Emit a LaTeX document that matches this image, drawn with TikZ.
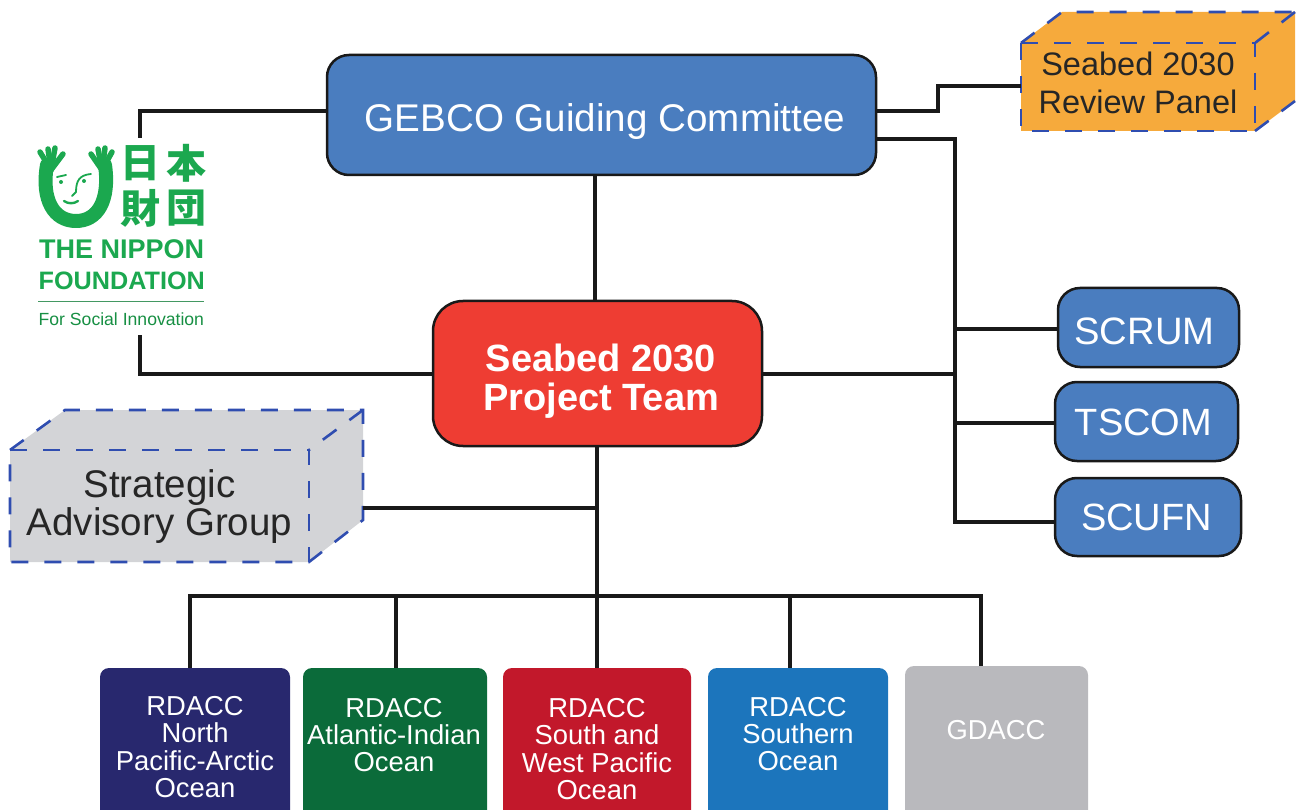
\documentclass[tikz,border=0pt]{standalone}
\usepackage{fontspec}
\setmainfont{Liberation Sans}
\newfontfamily\cjkfont{Noto Sans CJK JP}
\definecolor{boxblue}{HTML}{4A7DBF}
\definecolor{teamred}{HTML}{EE3D33}
\definecolor{dashblue}{HTML}{2F4DB0}
\definecolor{panelorange}{HTML}{F6AA3C}
\definecolor{sagrey}{HTML}{D3D4D7}
\definecolor{logogreen}{HTML}{1BA84F}
\definecolor{rnavy}{HTML}{28286E}
\definecolor{rgreen}{HTML}{0B6B3A}
\definecolor{rred}{HTML}{C2182B}
\definecolor{rblue}{HTML}{1C75BC}
\definecolor{rgrey}{HTML}{B9B9BD}
\newcommand{\fs}[1]{\fontsize{#1}{#1}\selectfont}
\tikzset{
  x=1pt,y=-1pt,
  conn/.style={line width=4.5pt,draw=black!90},
  roundbox/.style={draw=black!90,line width=2.5pt,rounded corners=22pt,fill=boxblue,text=white,align=center,inner sep=0pt},
  regionbox/.style={text=white,align=center,inner sep=0pt,font=\fs{27.4}},
  cubeedge/.style={draw=dashblue,line width=2.6pt,dash pattern=on 17pt off 16pt},
  cubetext/.style={text=black!85,align=center,inner sep=0pt},
  logotext/.style={text=logogreen,inner sep=0pt,anchor=base west},
  logostroke/.style={draw=logogreen,line cap=round,line join=round},
}
\begin{document}
\begin{tikzpicture}
\useasboundingbox (0,0) rectangle (1301,810);
\clip (0,0) rectangle (1301,810);
% boxes
\node[roundbox,minimum width=549pt,minimum height=120pt] (gebco) at (601.5,115) {};
\node[text=white,font=\fs{38.6},inner sep=0pt] (gebcot) at (605,122) {GEBCO Guiding Committee};
\node[roundbox,fill=teamred,minimum width=329pt,minimum height=145pt,rounded corners=30pt] (team) at (597.5,373.5) {};
\node[text=white,font=\bfseries\fs{38},align=center,inner sep=0pt] (teamt) at (601,381) {Seabed 2030\\[1pt]Project Team};
\node[roundbox,minimum width=181pt,minimum height=79pt,rounded corners=22pt] (scrum) at (1148.5,327.5) {};
\node[text=white,font=\fs{38.2},inner sep=0pt] (scrumt) at (1144.5,331) {SCRUM};
\node[roundbox,minimum width=183pt,minimum height=79pt,rounded corners=22pt] (tscom) at (1146.5,421.5) {};
\node[text=white,font=\fs{38},inner sep=0pt] (tscomt) at (1143.5,422) {TSCOM};
\node[roundbox,minimum width=186pt,minimum height=78pt,rounded corners=22pt] (scufn) at (1148,517) {};
\node[text=white,font=\fs{38},inner sep=0pt] (scufnt) at (1146.5,517) {SCUFN};
% regional boxes
\fill[rnavy,rounded corners=9pt] (100,668) rectangle (290,830);
\fill[rgreen,rounded corners=9pt] (303,668) rectangle (487,830);
\fill[rred,rounded corners=9pt] (503,668) rectangle (691,830);
\fill[rblue,rounded corners=9pt] (708,668) rectangle (888,830);
\fill[rgrey,rounded corners=9pt] (905,666) rectangle (1088,830);
\node[regionbox] (r1) at (195,747) {RDACC\\North\\Pacific-Arctic\\Ocean};
\node[regionbox] (r2) at (394,735) {RDACC\\Atlantic-Indian\\Ocean};
\node[regionbox] (r3) at (597,749) {RDACC\\South and\\West Pacific\\Ocean};
\node[regionbox] (r4) at (798,734) {RDACC\\Southern\\Ocean};
\node[regionbox] (r5) at (996,730) {GDACC};
% review panel cuboid
\fill[panelorange] (1021,43) -- (1062,12) -- (1295,12) -- (1295,101) -- (1255,131) -- (1021,131) -- cycle;
\draw[cubeedge] (1021,43) -- (1062,12) -- (1295,12);
\draw[cubeedge] (1295,12) -- (1255,43);
\draw[cubeedge] (1295,101) -- (1255,131);
\draw[cubeedge] (1021,43) -- (1255,43) -- (1255,131) -- (1021,131) -- cycle;
\node[cubetext,font=\fs{32.5}] (panel) at (1138,83) {Seabed 2030\\[5.5pt]Review Panel};
% SAG cuboid
\fill[sagrey] (10,450) -- (65,410) -- (363,410) -- (363,520) -- (309,562) -- (10,562) -- cycle;
\draw[cubeedge] (10,450) -- (65,410) -- (363,410) -- (363,520) -- (309,562) -- (10,562) -- cycle;
\draw[cubeedge] (10,450) -- (309,450) -- (309,562);
\draw[cubeedge] (363,410) -- (309,450);
\node[cubetext,font=\fs{38.5}] (sag) at (159.5,506.5) {Strategic\\Advisory Group};
% logo
\node[inner sep=0pt,minimum width=170pt,minimum height=190pt] (logo) at (122,238) {};
\draw[logostroke,line width=14pt] (47,165) .. controls (41,200) and (54,221) .. (76,221) .. controls (98,221) and (110,200) .. (105,165);
\foreach \a/\b in {48/149,55/148,63/154,40/152}{\draw[logostroke,line width=5.5pt] (51,170) -- (\a,\b);}
\foreach \a/\b in {91/154,98/149,105/148,112/152}{\draw[logostroke,line width=5.5pt] (102,170) -- (\a,\b);}
\draw[logostroke,line width=1.8pt] (57,177) -- (66,175);
\draw[logostroke,line width=1.8pt] (76,192) .. controls (76,180) and (80,175) .. (91,174);
\draw[logostroke,line width=1.8pt] (76,192) -- (72,196);
\draw[logostroke,line width=2.4pt] (64,201) .. controls (68,204) and (74,204) .. (78,201);
\fill[logogreen] (61,182) circle (2pt) (84,181) circle (2pt);
\node[inner sep=0pt,text=logogreen,font=\cjkfont\bfseries\fs{40}] (kanjia) at (140,163) {日};
\node[inner sep=0pt,text=logogreen,font=\cjkfont\bfseries\fs{40}] (kanjib) at (186,163) {本};
\node[inner sep=0pt,text=logogreen,font=\cjkfont\bfseries\fs{40}] (kanjic) at (140,208) {財};
\node[inner sep=0pt,text=logogreen,font=\cjkfont\bfseries\fs{40}] (kanjid) at (186,208) {団};
\node[logotext,font=\bfseries\fs{27}] (nippon) at (39,259) {THE NIPPON};
\node[logotext,font=\bfseries\fs{25.2}] (found) at (38.5,290) {FOUNDATION};
\draw[draw=logogreen!60!gray,line width=1pt] (38,302) -- (204,302);
\node[logotext,font=\fs{17.6},text=logogreen!85!black] (social) at (38.5,326) {For Social Innovation};
% connectors
\coordinate (p1) at (140,111);
\coordinate (p2) at (140,374);
\coordinate (gw) at (327,111);
\coordinate (te) at (433,374);
\coordinate (ge1) at (876,111);
\coordinate (j1) at (938,111);
\coordinate (j2) at (938,86);
\coordinate (pw) at (1021,86);
\coordinate (ge2) at (876,139);
\coordinate (j3) at (955,139);
\coordinate (j4) at (955,522);
\draw[conn] (gw) -- (p1) -- (140,138);
\draw[conn] (140,335) -- (p2) -- (te);
\draw[conn] (ge1) -- (j1) -- (j2) -- (pw);
\draw[conn] (ge2) -- (j3) -- (j4) -- (j4 -| scufn.west);
\draw[conn] (955,329) -- (955,329 -| scrum.west);
\draw[conn] (955,423) -- (955,423 -| tscom.west);
\draw[conn] (team.east |- 955,374) -- (955,374);
\draw[conn] (595,175) -- (595,301);
\draw[conn] (597,446) -- (597,668);
\draw[conn] (363,508) -- (597,508);
\draw[conn] (190,596) -- (981,596);
\draw[conn] (190,594) -- (190,668);
\draw[conn] (396,594) -- (396,668);
\draw[conn] (790,594) -- (790,668);
\draw[conn] (981,594) -- (981,666);
\end{tikzpicture}
\end{document}
